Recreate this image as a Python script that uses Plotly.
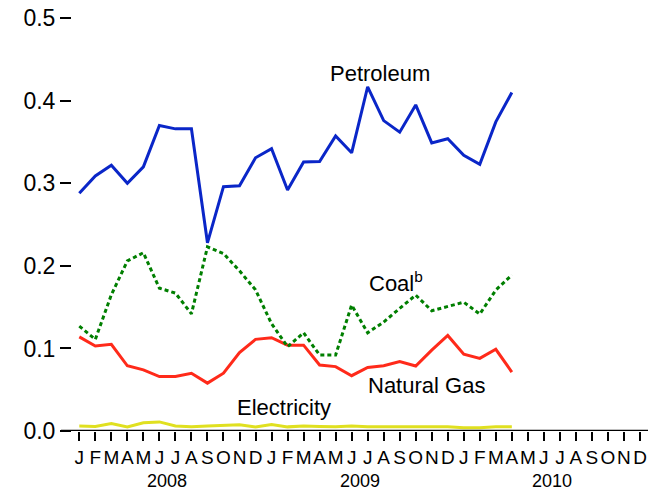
import plotly.graph_objects as go

months = ["J", "F", "M", "A", "M", "J", "J", "A", "S", "O", "N", "D"] * 3
years = ["2008", "2009", "2010"]

petroleum = [0.288, 0.309, 0.322, 0.300, 0.320, 0.370, 0.366, 0.366, 0.228, 0.296,
             0.297, 0.331, 0.342, 0.292, 0.326, 0.3265, 0.3575, 0.337, 0.417, 0.376,
             0.362, 0.395, 0.349, 0.354, 0.334, 0.323, 0.3745, 0.410]
coal = [0.127, 0.111, 0.165, 0.206, 0.216, 0.173, 0.167, 0.142, 0.223, 0.215,
        0.194, 0.171, 0.130, 0.102, 0.119, 0.092, 0.092, 0.1525, 0.119, 0.132,
        0.1485, 0.1646, 0.1457, 0.151, 0.156, 0.1417, 0.1707, 0.189]
natural_gas = [0.114, 0.103, 0.105, 0.079, 0.074, 0.066, 0.066, 0.070, 0.058, 0.070,
               0.095, 0.111, 0.113, 0.104, 0.104, 0.080, 0.078, 0.067, 0.077, 0.079,
               0.084, 0.0787, 0.098, 0.1158, 0.093, 0.088, 0.099, 0.0714]
electricity = [0.006, 0.0056, 0.009, 0.005, 0.010, 0.011, 0.006, 0.005, 0.006, 0.007,
               0.0075, 0.005, 0.008, 0.005, 0.006, 0.0055, 0.005, 0.006, 0.005, 0.005,
               0.005, 0.005, 0.005, 0.005, 0.004, 0.004, 0.005, 0.005]

x = list(range(len(petroleum)))
tick_idx = list(range(len(months)))

FONT = "Liberation Sans"

fig = go.Figure()
fig.add_trace(go.Scatter(x=x, y=electricity, mode="lines", line=dict(color="#e0e020", width=3)))
fig.add_trace(go.Scatter(x=x, y=natural_gas, mode="lines", line=dict(color="#ff2a1a", width=3)))
fig.add_trace(go.Scatter(x=x, y=coal, mode="lines", line=dict(color="#007f00", width=3, dash="4px,3px")))
fig.add_trace(go.Scatter(x=x, y=petroleum, mode="lines", line=dict(color="#0a26c8", width=3)))

labels = [
    ("Petroleum", 18.8, 0.433),
    ("Coal<sup>b</sup>", 19.8, 0.180),
    ("Natural Gas", 21.7, 0.055),
    ("Electricity", 12.8, 0.029),
]
for txt, lx, ly in labels:
    fig.add_annotation(x=lx, y=ly, text=txt, showarrow=False, xref="x", yref="y",
                       font=dict(size=22, color="black", family=FONT))

for i, yr in enumerate(years):
    fig.add_annotation(x=5.5 + 12 * i, y=-50 / 421, text=yr, showarrow=False, xref="x", yref="paper",
                       yanchor="middle", font=dict(size=18, color="black", family=FONT))

# extend x baseline to the left under the y ticks
fig.add_shape(type="line", xref="paper", yref="y", x0=-11 / 576, x1=1, y0=0, y1=0,
              line=dict(color="black", width=2.5))

fig.update_layout(
    width=660, height=491,
    margin=dict(l=72, r=12, t=10, b=60, autoexpand=False),
    paper_bgcolor="white", plot_bgcolor="white",
    showlegend=False,
    font=dict(family=FONT, color="black"),
    xaxis=dict(range=[-0.456, 35.5], tickmode="array", tickvals=tick_idx, ticktext=months,
               showgrid=False, zeroline=False, showline=False, ticks="outside",
               ticklen=9, tickwidth=2.3, tickcolor="black", automargin=False, tickangle=0,
               tickfont=dict(size=19, family=FONT, color="black")),
    yaxis=dict(range=[0, 0.51], tickmode="array", tickvals=[0, 0.1, 0.2, 0.3, 0.4, 0.5],
               ticktext=["0.0", "0.1", "0.2", "0.3", "0.4", "0.5"],
               showgrid=False, zeroline=False, showline=False, ticks="outside",
               ticklen=11, tickwidth=2.3, tickcolor="black", automargin=False,
               tickfont=dict(size=23, family=FONT, color="black")),
)

fig.write_html("out.html", post_script="document.body.style.margin='0';",
               config={"displayModeBar": False})
